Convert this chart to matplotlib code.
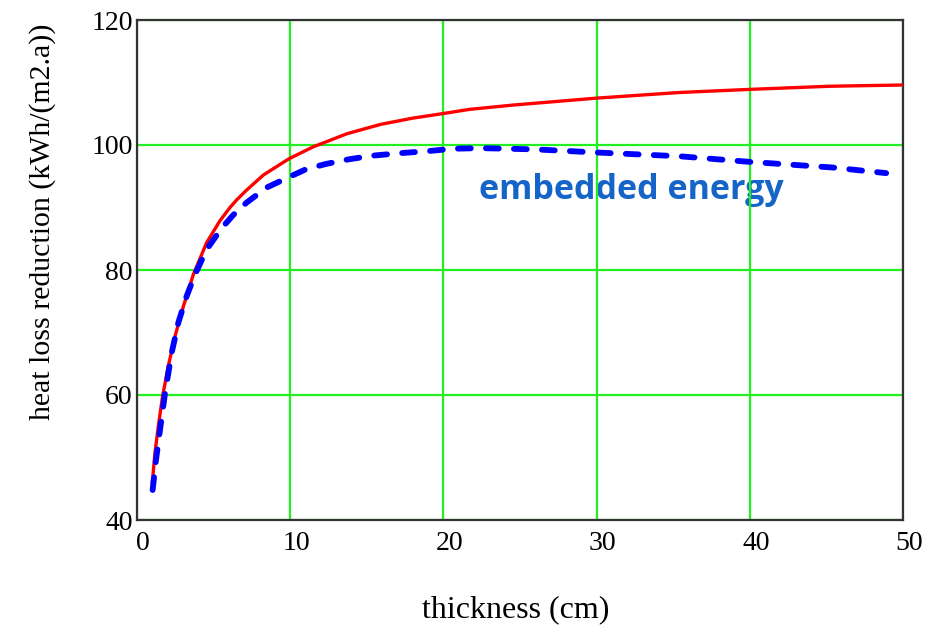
import matplotlib
matplotlib.use("Agg")
import matplotlib.pyplot as plt
from matplotlib.transforms import ScaledTranslation

# Data
red_x = [1.0, 1.17, 1.39, 1.67, 2.04, 2.48, 3.03, 3.68, 4.55, 5.42, 6.07, 6.5, 7.16, 8.25, 9.92,
         11.5, 13.7, 15.9, 18.0, 19.9, 21.7, 24.6, 30, 35.4, 40, 45.2, 50]
red_y = [46.0, 50.7, 55.0, 59.8, 64.6, 69.4, 74.2, 79.3, 84.4, 87.9, 90.0, 91.2, 92.8, 95.2, 97.8,
         99.7, 101.8, 103.3, 104.3, 105.0, 105.7, 106.4, 107.5, 108.4, 108.9, 109.4, 109.6]

blue_x = [1.02, 1.24, 1.5, 1.83, 2.26, 2.7, 3.24, 3.79, 4.55, 5.53, 6.28, 7.16, 8.47, 9.77, 11.1,
          12.4, 13.8, 15.4, 17.2, 18.9, 20.6, 22.4, 26, 30, 35.4, 40, 45.4, 48.9]
blue_y = [44.8, 49.6, 54.4, 60.3, 66.7, 71.6, 75.8, 79.3, 83.3, 86.7, 88.8, 90.8, 93.2, 94.7, 96.2,
          97.0, 97.7, 98.3, 98.7, 99.0, 99.4, 99.5, 99.3, 98.8, 98.2, 97.3, 96.4, 95.5]

x_ticks = [0, 10, 20, 30, 40, 50]
y_ticks = [40, 60, 80, 100, 120]
x_label = "thickness (cm)"
y_label = "heat loss reduction (kWh/(m2.a))"
annotation = "embedded energy"

W, H = 926, 629
fig = plt.figure(figsize=(W / 100, H / 100), dpi=100)
ax = fig.add_axes([137 / W, 1 - 520 / H, (903 - 137) / W, (520 - 20) / H])

ax.set_xlim(0, 50)
ax.set_ylim(40, 120)
ax.set_xticks(x_ticks)
ax.set_yticks(y_ticks)

ax.grid(True, color="#22EE22", linewidth=1.6, zorder=1)
ax.set_axisbelow(True)

ax.text(32.3, 92.8, annotation, color="#1565C8", fontsize=24.5,
        family="Open Sans", fontweight="bold", ha="center", va="center", zorder=0.5)

ax.plot(red_x, red_y, color="#FF0000", linewidth=2.4, zorder=3)
ax.plot(blue_x, blue_y, color="#0000FF", linewidth=4.2, zorder=4,
        dashes=(2.2, 2.6), dash_capstyle="round")

for s in ax.spines.values():
    s.set_color("#333333")
    s.set_linewidth(1.6)

ax.tick_params(axis="both", length=0, labelsize=20)
ax.tick_params(axis="x", pad=8)
ax.tick_params(axis="y", pad=3)
for lab in ax.get_xticklabels() + ax.get_yticklabels():
    lab.set_family("Liberation Serif")
for lab in ax.get_xticklabels():
    lab.set_transform(lab.get_transform() + ScaledTranslation(6 / 100, 0, fig.dpi_scale_trans))

fig.text(516 / W, 1 - 610 / H, x_label, family="Liberation Serif", fontsize=23,
         ha="center", va="center")
fig.text(43 / W, 1 - 222 / H, y_label, family="Liberation Serif", fontsize=21.5,
         ha="center", va="center", rotation=90)

fig.savefig("out.png", dpi=100)
